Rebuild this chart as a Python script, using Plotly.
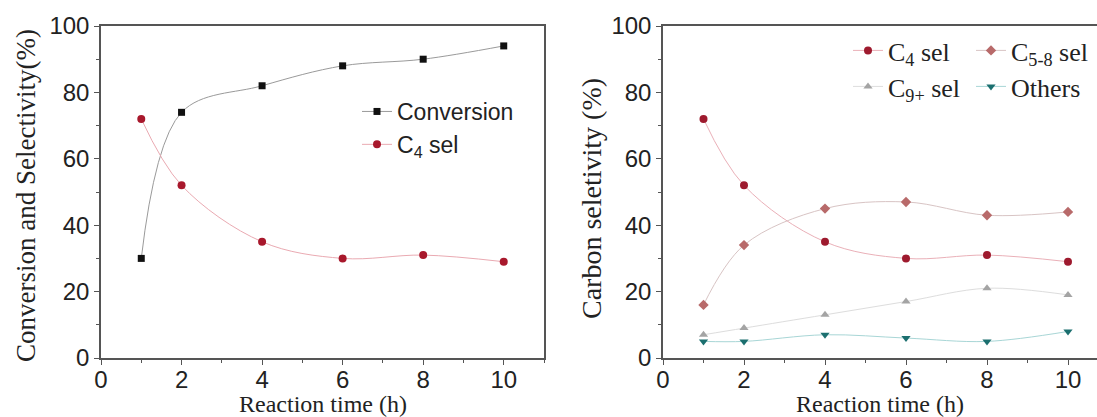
import plotly.graph_objects as go

time_h = [1, 2, 4, 6, 8, 10]
conversion = [30, 74, 82, 88, 90, 94]
c4_sel = [72, 52, 35, 30, 31, 29]
c58_sel = [16, 34, 45, 47, 43, 44]
c9_sel = [7, 9, 13, 17, 21, 19]
others = [5, 5, 7, 6, 5, 8]

x_ticks = [0, 2, 4, 6, 8, 10]
y_ticks = [0, 20, 40, 60, 80, 100]

W, H = 1097, 417
fig = go.Figure()

def add(x, y, name, mcol, lcol, sym, xa, ya, legend, size=8):
    fig.add_trace(go.Scatter(
        x=x, y=y, name=name, mode="lines+markers",
        line=dict(color=lcol, width=1, shape="spline", smoothing=1.0),
        marker=dict(color=mcol, symbol=sym, size=size),
        xaxis=xa, yaxis=ya, legend=legend))

add(time_h, conversion, "Conversion", "#111111", "#9a9a9a", "square", "x", "y", "legend", 7)
add(time_h, c4_sel, "C<sub>4</sub> sel", "#a8182c", "#eaaab2", "circle", "x", "y", "legend")

add(time_h, c4_sel, "C<sub>4</sub> sel", "#9e1a2e", "#eab0b8", "circle", "x2", "y2", "legend2")
add(time_h, c58_sel, "C<sub>5-8</sub> sel", "#b86a6a", "#d8c4c4", "diamond", "x2", "y2", "legend2")
add(time_h, c9_sel, "C<sub>9+</sub> sel", "#a4a4a4", "#dddddd", "triangle-up", "x2", "y2", "legend3")
add(time_h, others, "Others", "#1b6f6f", "#a8d6d6", "triangle-down", "x2", "y2", "legend3")

tickfont = dict(family="Liberation Sans, Arial, sans-serif", size=24, color="#222222")
serif = "Liberation Serif, Times New Roman, serif"

def xaxis(domain, anchor, rng):
    return dict(domain=domain, anchor=anchor, range=rng, tickvals=x_ticks,
                ticks="outside", ticklen=5, tickcolor="#555", tickwidth=1.2,
                showline=True, linecolor="#555", linewidth=1.5, mirror=True,
                showgrid=False, zeroline=False, tickfont=tickfont, automargin=False,
                ticklabelstandoff=-6,
                minor=dict(dtick=1, ticks="outside", ticklen=3, tickcolor="#555"))

def yaxis(domain, anchor, mirror):
    return dict(domain=domain, anchor=anchor, range=[0, 100], tickvals=y_ticks,
                ticks="outside", ticklen=5, tickcolor="#555", tickwidth=1.2,
                showline=True, linecolor="#555", linewidth=1.5, mirror=mirror,
                showgrid=False, zeroline=False, tickfont=tickfont, automargin=False,
                minor=dict(dtick=10, ticks="outside", ticklen=3, tickcolor="#555"))

ydom = [(H - 358) / H, (H - 26) / H]
right_range = [0, (W - 663) / 40.5]

annotations = [
    dict(text="Reaction time (h)", xref="x domain", yref="paper", x=0.5, y=(H - 404) / H,
         xanchor="center", yanchor="middle", showarrow=False,
         font=dict(family=serif, size=24, color="#222")),
    dict(text="Reaction time (h)", xref="x2 domain", yref="paper", x=0.5, y=(H - 404) / H,
         xanchor="center", yanchor="middle", showarrow=False,
         font=dict(family=serif, size=24, color="#222")),
    dict(text="Conversion and Selectivity(%)", xref="paper", yref="paper",
         x=26 / W, y=(H - 196) / H, xanchor="center", yanchor="middle",
         textangle=-90, showarrow=False, font=dict(family=serif, size=27, color="#222")),
    dict(text="Carbon seletivity (%)", xref="paper", yref="paper",
         x=591 / W, y=(H - 199) / H, xanchor="center", yanchor="middle",
         textangle=-90, showarrow=False, font=dict(family=serif, size=28, color="#222")),
]

legfont_serif = dict(family=serif, size=26, color="#222")
fig.update_layout(
    width=W, height=H,
    margin=dict(l=0, r=0, t=0, b=0, autoexpand=False),
    paper_bgcolor="white", plot_bgcolor="white",
    xaxis=xaxis([101 / W, 544 / W], "y", [0, 11]),
    yaxis=yaxis(ydom, "x", True),
    xaxis2=xaxis([663 / W, 1.0], "y2", right_range),
    yaxis2=yaxis(ydom, "x2", False),
    annotations=annotations,
    legend=dict(x=357 / W, y=1 - 90 / H, xanchor="left", yanchor="top",
                bgcolor="rgba(0,0,0,0)", tracegroupgap=0,
                font=dict(family="Liberation Sans, Arial, sans-serif", size=23, color="#222")),
    legend2=dict(x=848 / W, y=1 - 27 / H, xanchor="left", yanchor="top",
                 orientation="h", entrywidth=78, entrywidthmode="pixels",
                 bgcolor="rgba(0,0,0,0)", font=legfont_serif),
    legend3=dict(x=848 / W, y=1 - 63 / H, xanchor="left", yanchor="top",
                 orientation="h", entrywidth=78, entrywidthmode="pixels",
                 bgcolor="rgba(0,0,0,0)", font=legfont_serif),
    showlegend=True,
)

fig.write_html("out.html", config={"displayModeBar": False},
               post_script="document.body.style.margin='0';document.body.style.overflow='hidden';")
